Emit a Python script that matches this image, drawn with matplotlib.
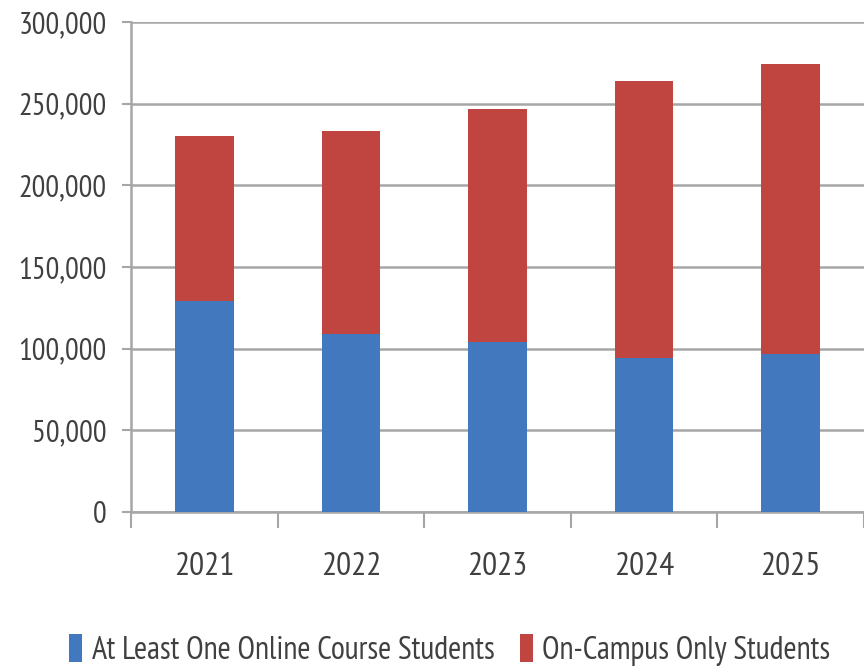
import matplotlib.pyplot as plt
from matplotlib.ticker import FuncFormatter, FixedLocator

years = ["2021", "2022", "2023", "2024", "2025"]
online = [129000, 109000, 104000, 94000, 97000]
campus_only = [101000, 124000, 143000, 170000, 177000]
series_names = ["At Least One Online Course Students", "On-Campus Only Students"]

# tall narrow look of the original labels
plt.rcParams["font.family"] = ["PT Sans Narrow", "DejaVu Sans"]

text_color = "#404040"
grid_color = "#a6a6a6"

fig = plt.figure(figsize=(8.64, 6.69), dpi=100)
ax = fig.add_axes([131 / 864, 1 - 512 / 669, 1 - 131 / 864, (512 - 22) / 669])

x = list(range(len(years)))
ax.bar(x, online, width=0.40, color="#4178be", label=series_names[0], zorder=3)
ax.bar(x, campus_only, width=0.40, bottom=online, color="#c0443f",
       label=series_names[1], zorder=3)

ax.set_xlim(-0.5, 4.5)
ax.set_ylim(0, 300000)
ax.set_yticks(range(0, 300001, 50000))
ax.yaxis.set_major_formatter(FuncFormatter(lambda v, p: f"{int(v):,}"))
ax.grid(axis="y", color=grid_color, linewidth=1.8, zorder=0)

ax.set_xticks(x)
ax.set_xticklabels(years)
ax.xaxis.set_minor_locator(FixedLocator([i - 0.5 for i in range(len(years) + 1)]))
ax.tick_params(axis="x", which="major", length=0, pad=29, labelsize=24,
               labelcolor=text_color)
ax.tick_params(axis="x", which="minor", length=11.5, width=1.5, color=grid_color)
ax.tick_params(axis="y", length=6.5, width=1.5, color=grid_color, pad=11,
               labelsize=22, labelcolor=text_color)

for side in ["top", "right"]:
    ax.spines[side].set_visible(False)
for side in ["left", "bottom"]:
    ax.spines[side].set_color(grid_color)
    ax.spines[side].set_linewidth(1.8)

fig.legend(loc="center", bbox_to_anchor=(450 / 864, 1 - 650 / 669), ncol=2,
           frameon=False, fontsize=23, handlelength=0.4, handleheight=1.0,
           handletextpad=0.3, columnspacing=0.8, labelcolor=text_color)

fig.savefig("out.png", dpi=100)
